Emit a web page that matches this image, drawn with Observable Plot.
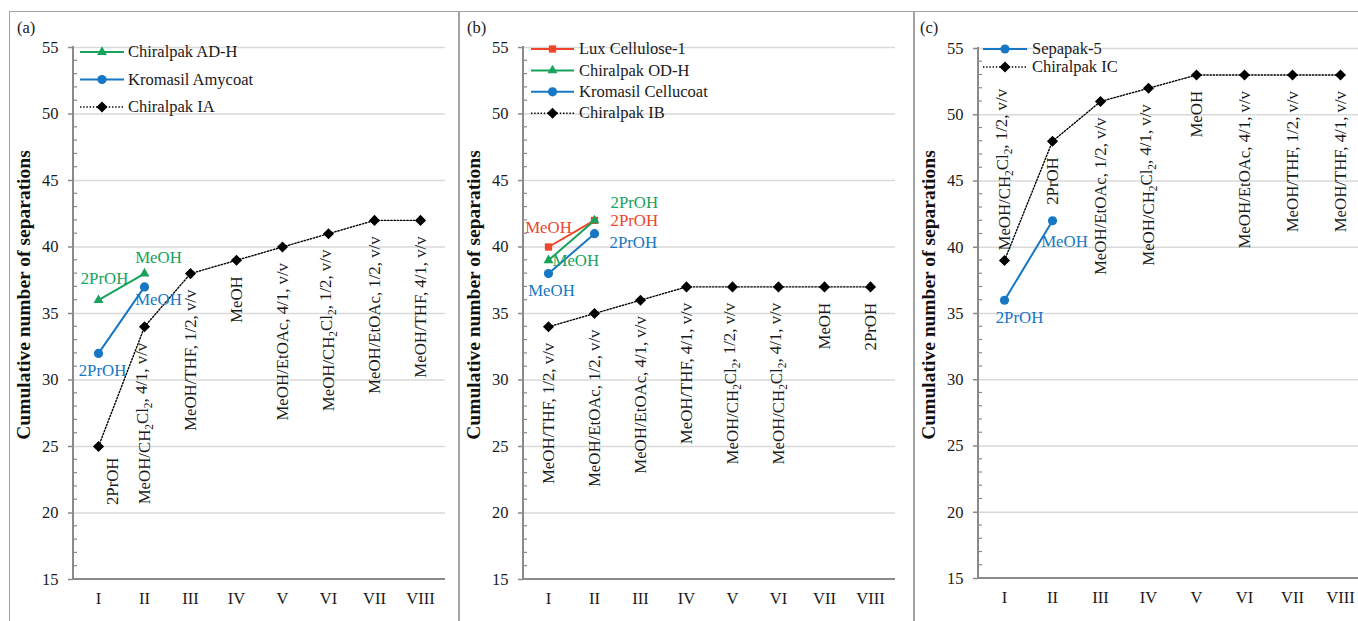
<!DOCTYPE html>
<html>
<head>
<meta charset="utf-8">
<script src="https://cdn.jsdelivr.net/npm/d3@7"></script>
<script src="https://cdn.jsdelivr.net/npm/@observablehq/plot@0.6"></script>
<style>
  html, body { margin: 0; padding: 0; background: #fff; }
  #wrap { position: relative; width: 1358px; height: 621px; overflow: hidden; background: #fff;
          font-family: "Liberation Serif", "Times New Roman", serif; }
  .pnl { position: absolute; top: 11px; }
  .bord { position: absolute; top: 11px; height: 640px; border: 1px solid #a3a3a3; box-sizing: border-box; pointer-events: none; }
</style>
</head>
<body>
<div id="wrap"></div>
<script>
// ---------------- data ----------------
const romans = ["I", "II", "III", "IV", "V", "VI", "VII", "VIII"];
const yTicks = [15, 20, 25, 30, 35, 40, 45, 50, 55];

// panel (a)
const aIAName = "Chiralpak IA";
const aIAValues = [25, 34, 38, 39, 40, 41, 42, 42];
const aIALabels = ["2PrOH", "MeOH/CH2Cl2, 4/1, v/v", "MeOH/THF, 1/2, v/v", "MeOH",
  "MeOH/EtOAc, 4/1, v/v", "MeOH/CH2Cl2, 1/2, v/v", "MeOH/EtOAc, 1/2, v/v", "MeOH/THF, 4/1, v/v"];
const aADHName = "Chiralpak AD-H";
const aADHValues = [36, 38];
const aADHLabels = ["2PrOH", "MeOH"];
const aAmyName = "Kromasil Amycoat";
const aAmyValues = [32, 37];
const aAmyLabels = ["2PrOH", "MeOH"];

// panel (b)
const bIBName = "Chiralpak IB";
const bIBValues = [34, 35, 36, 37, 37, 37, 37, 37];
const bIBLabels = ["MeOH/THF, 1/2, v/v", "MeOH/EtOAc, 1/2, v/v", "MeOH/EtOAc, 4/1, v/v", "MeOH/THF, 4/1, v/v",
  "MeOH/CH2Cl2, 1/2, v/v", "MeOH/CH2Cl2, 4/1, v/v", "MeOH", "2PrOH"];
const bLuxName = "Lux Cellulose-1";
const bLuxValues = [40, 42];
const bLuxLabels = ["MeOH", "2PrOH"];
const bODHName = "Chiralpak OD-H";
const bODHValues = [39, 42];
const bODHLabels = ["MeOH", "2PrOH"];
const bCelName = "Kromasil Cellucoat";
const bCelValues = [38, 41];
const bCelLabels = ["MeOH", "2PrOH"];

// panel (c)
const cICName = "Chiralpak IC";
const cICValues = [39, 48, 51, 52, 53, 53, 53, 53];
const cICLabels = ["MeOH/CH2Cl2, 1/2, v/v", "2PrOH", "MeOH/EtOAc, 1/2, v/v", "MeOH/CH2Cl2, 4/1, v/v",
  "MeOH", "MeOH/EtOAc, 4/1, v/v", "MeOH/THF, 1/2, v/v", "MeOH/THF, 4/1, v/v"];
const cSepName = "Sepapak-5";
const cSepValues = [36, 42];
const cSepLabels = ["2PrOH", "MeOH"];

const yTitle = "Cumulative number of separations";

// ---------------- styles ----------------
const GREEN = "#18a25c", BLUE = "#1677c4", RED = "#f0452b";
const FONT = "Liberation Serif, Times New Roman, serif";
const FS = 16.5;      // ticks & legend
const LFS = 16.8;     // point labels
const symbolInfo = {
  triangle: {plot: "triangle", d3: d3.symbolTriangle, r: 3.7},
  circle: {plot: "circle", d3: d3.symbolCircle, r: 4.6},
  square: {plot: "square", d3: d3.symbolSquare, r: 4.1},
  diamond: {plot: "diamond2", d3: d3.symbolDiamond2, r: 5}
};

// ---------------- panels ----------------
const panels = [
  {
    letter: "(a)", left: 9, width: 450, mL: 64, mR: 14, mT: 36, mB: 42, letterX: 8,
    legendTop: 5, legendStep: 27.5, legX: [7, 51, 55],
    base: {name: aIAName, values: aIAValues, labels: aIALabels, gap: 16,
           adjust: {0: {dx: 14, gap: 11}}},
    series: [
      {name: aADHName, values: aADHValues, labels: aADHLabels, color: GREEN, symbol: "triangle",
       place: [{dx: 6, dy: -22}, {dx: 14, dy: -16}]},
      {name: aAmyName, values: aAmyValues, labels: aAmyLabels, color: BLUE, symbol: "circle",
       place: [{dx: 4, dy: 17}, {dx: 14, dy: 13}]}
    ]
  },
  {
    letter: "(b)", left: 458, width: 456, mL: 65, mR: 19, mT: 36, mB: 42, letterX: 9,
    legendTop: 2, legendStep: 21.4, legX: [8, 51, 56],
    base: {name: bIBName, values: bIBValues, labels: bIBLabels, gap: 16, adjust: {}},
    series: [
      {name: bLuxName, values: bLuxValues, labels: bLuxLabels, color: RED, symbol: "square",
       place: [{dx: 0, dy: -19}, {dx: 16, dy: 0, anchor: "start"}]},
      {name: bODHName, values: bODHValues, labels: bODHLabels, color: GREEN, symbol: "triangle",
       place: [{dx: 4, dy: 0, anchor: "start"}, {dx: 16, dy: -18, anchor: "start"}]},
      {name: bCelName, values: bCelValues, labels: bCelLabels, color: BLUE, symbol: "circle",
       place: [{dx: 3, dy: 17}, {dx: 15, dy: 9, anchor: "start"}]}
    ]
  },
  {
    letter: "(c)", left: 913, width: 460, mL: 65, mR: 7, mT: 37, mB: 43, letterX: 7,
    legendTop: 1, legendStep: 18, legX: [5, 49, 54],
    base: {name: cICName, values: cICValues, labels: cICLabels, gap: 16,
           adjust: {0: {above: true, gap: 10}}},
    series: [
      {name: cSepName, values: cSepValues, labels: cSepLabels, color: BLUE, symbol: "circle",
       place: [{dx: 15, dy: 17}, {dx: 12, dy: 21}]}
    ]
  }
];

const wrap = document.getElementById("wrap");

function addSubscripts(svgSel) {
  svgSel.selectAll("text").each(function () {
    const s = this.textContent;
    if (!s.includes("CH2Cl2")) return;
    const el = d3.select(this);
    const parts = s.split("CH2Cl2");
    el.text(null);
    parts.forEach((p, i) => {
      if (i > 0) {
        el.append("tspan").text("CH");
        el.append("tspan").attr("dy", "0.3em").attr("font-size", "0.68em").text("2");
        el.append("tspan").attr("dy", "-0.3em").text("Cl");
        el.append("tspan").attr("dy", "0.3em").attr("font-size", "0.68em").text("2");
        el.append("tspan").attr("dy", "-0.3em").text(p);
      } else {
        el.append("tspan").text(p);
      }
    });
  });
}

panels.forEach(cfg => {
  const H = 610;
  const baseData = romans.map((r, i) => ({x: r, y: cfg.base.values[i], t: cfg.base.labels[i], i}));
  const marks = [
    Plot.gridY(yTicks.slice(1), {stroke: "#d9d9d9", strokeOpacity: 1, strokeWidth: 1.4}),
    Plot.axisY(yTicks, {tickSize: 5, tickPadding: 10, stroke: "#8a8a8a", strokeWidth: 1.5, fill: "#1a1a1a", label: null}),
    Plot.axisX(romans, {tickSize: 0, tickPadding: 13, fill: "#1a1a1a", label: null}),
    Plot.line(baseData, {x: "x", y: "y", stroke: "#000", strokeWidth: 1.4, strokeDasharray: "1.4 1.8"})
  ];
  cfg.series.forEach(s => {
    const d = s.values.map((v, i) => ({x: romans[i], y: v}));
    marks.push(Plot.line(d, {x: "x", y: "y", stroke: s.color, strokeWidth: 2}));
  });
  cfg.series.forEach(s => {
    const d = s.values.map((v, i) => ({x: romans[i], y: v}));
    const si = symbolInfo[s.symbol];
    marks.push(Plot.dot(d, {x: "x", y: "y", symbol: () => si.plot, fill: s.color, r: si.r, stroke: "none"}));
  });
  marks.push(Plot.dot(baseData, {x: "x", y: "y", symbol: () => "diamond2", fill: "#000", r: symbolInfo.diamond.r, stroke: "none"}));
  // rotated labels for the base series
  const adj = cfg.base.adjust;
  const normal = baseData.filter(d => !(d.i in adj));
  marks.push(Plot.text(normal, {x: "x", y: "y", text: "t", rotate: -90, textAnchor: "end",
    dy: cfg.base.gap, fill: "#1a1a1a", fontSize: LFS}));
  Object.keys(adj).forEach(k => {
    const a = adj[k];
    const d = baseData.filter(e => e.i === +k);
    marks.push(Plot.text(d, {x: "x", y: "y", text: "t", rotate: -90,
      textAnchor: a.above ? "start" : "end",
      dx: a.dx || 0, dy: a.above ? -(a.gap) : (a.gap ?? cfg.base.gap), fill: "#1a1a1a", fontSize: LFS}));
  });
  // colored point labels
  cfg.series.forEach(s => {
    s.labels.forEach((t, i) => {
      const p = s.place[i];
      marks.push(Plot.text([{x: romans[i], y: s.values[i], t}], {x: "x", y: "y", text: "t",
        fill: s.color, fontSize: LFS, dx: p.dx, dy: p.dy, textAnchor: p.anchor || "middle"}));
    });
  });

  const plot = Plot.plot({
    width: cfg.width, height: H,
    marginLeft: cfg.mL, marginRight: cfg.mR, marginTop: cfg.mT, marginBottom: cfg.mB,
    x: {type: "point", domain: romans, padding: 0.5, align: 0.5, axis: null},
    y: {domain: [15, 55], axis: null},
    style: {fontFamily: FONT, fontSize: FS + "px", background: "transparent", overflow: "visible", color: "#1a1a1a"},
    marks
  });

  const holder = document.createElement("div");
  holder.className = "pnl";
  holder.style.left = cfg.left + "px";
  holder.style.width = cfg.width + "px";
  holder.appendChild(plot);
  wrap.appendChild(holder);

  const svg = d3.select(plot);
  const xs = plot.scale("x"), ys = plot.scale("y");
  const x0 = xs.range[0], x1 = xs.range[1];
  const yTop = ys.apply(55), yBot = ys.apply(15);

  // minor ticks (inside)
  const g = svg.append("g").attr("stroke", "#8a8a8a").attr("stroke-width", 1.2);
  for (let v = 16; v < 55; v++) {
    if (v % 5 === 0) continue;
    g.append("line").attr("x1", x0).attr("x2", x0 + 4).attr("y1", ys.apply(v)).attr("y2", ys.apply(v));
  }
  // axis lines
  svg.append("line").attr("x1", x0).attr("x2", x0).attr("y1", yTop - 1).attr("y2", yBot + 1)
    .attr("stroke", "#8a8a8a").attr("stroke-width", 2);
  svg.append("line").attr("x1", x0 - 1).attr("x2", x1).attr("y1", yBot).attr("y2", yBot)
    .attr("stroke", "#8a8a8a").attr("stroke-width", 2);

  // y-axis title
  svg.append("text").attr("transform", `translate(${x0 - 43},${(yTop + yBot) / 2 - 18}) rotate(-90)`)
    .attr("text-anchor", "middle").attr("font-weight", "bold").attr("font-size", 19.5)
    .attr("font-family", FONT).attr("fill", "#111").text(yTitle);

  // panel letter
  svg.append("text").attr("x", cfg.letterX).attr("y", 16).attr("dy", "0.35em")
    .attr("text-anchor", "start")
    .attr("font-size", FS).attr("font-family", FONT).attr("fill", "#1a1a1a").text(cfg.letter);

  // legend
  const items = cfg.series.map(s => ({name: s.name, color: s.color, symbol: s.symbol, dotted: false}))
    .concat([{name: cfg.base.name, color: "#000", symbol: "diamond", dotted: true}]);
  const [lx1, lx2, tx] = cfg.legX;
  items.forEach((it, i) => {
    const yy = yTop + cfg.legendTop + i * cfg.legendStep;
    const gl = svg.append("g");
    gl.append("line").attr("x1", x0 + lx1).attr("x2", x0 + lx2).attr("y1", yy).attr("y2", yy)
      .attr("stroke", it.color).attr("stroke-width", it.dotted ? 1.4 : 2)
      .attr("stroke-dasharray", it.dotted ? "1.4 1.8" : null);
    const si = symbolInfo[it.symbol];
    gl.append("path").attr("d", d3.symbol(si.d3, Math.PI * si.r * si.r)())
      .attr("transform", `translate(${x0 + (lx1 + lx2) / 2},${yy})`).attr("fill", it.color);
    gl.append("text").attr("x", x0 + tx).attr("y", yy).attr("dy", "0.32em")
      .attr("text-anchor", "start")
      .attr("font-size", FS).attr("font-family", FONT).attr("fill", "#1a1a1a").text(it.name);
  });

  addSubscripts(svg);

  const b = document.createElement("div");
  b.className = "bord";
  b.style.left = cfg.left + "px";
  b.style.width = (cfg.left === 913 ? 600 : cfg.width + 1) + "px";
  wrap.appendChild(b);
});
</script>
</body>
</html>
